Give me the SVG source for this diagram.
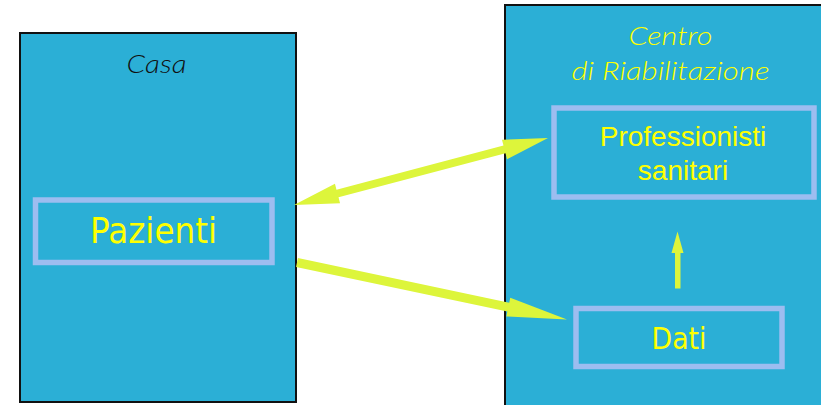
<svg xmlns="http://www.w3.org/2000/svg" width="821" height="405" viewBox="0 0 821 405">
<style>
.zone{fill:#2BAFD6;stroke:#111;stroke-width:2}
.inner{fill:none;stroke:#9DBDF0;stroke-width:5.5}
.title{font-family:Lato,"Open Sans","Liberation Sans",sans-serif;font-style:italic;font-weight:300;font-size:26px;text-anchor:middle}
.lbl{font-family:"DejaVu Sans","Liberation Sans",sans-serif;fill:#FFFF00;text-anchor:middle}
.lbl2{font-family:"Liberation Sans",Arial,sans-serif;fill:#FFFF00;font-size:28px;text-anchor:middle}
.arrow{fill:#DDF53B;stroke:none}
</style>
<rect width="821" height="405" fill="#fff"/>
<g id="casa">
<rect class="zone" x="20" y="33" width="276" height="369"/>
<text class="title" x="156.5" y="73" fill="#111" textLength="60" lengthAdjust="spacingAndGlyphs">Casa</text>
</g>
<g id="centro">
<rect class="zone" x="505" y="5" width="330" height="410"/>
<text class="title" x="670.5" y="45" fill="#FFFF00" textLength="84" lengthAdjust="spacingAndGlyphs">Centro</text>
<text class="title" x="670.5" y="80" fill="#FFFF00" textLength="198" lengthAdjust="spacingAndGlyphs">di Riabilitazione</text>
</g>
<g id="pazienti">
<rect class="inner" x="35.5" y="200" width="236.5" height="62.5"/>
<text class="lbl" x="153.5" y="243.3" font-size="36" textLength="127" lengthAdjust="spacingAndGlyphs">Pazienti</text>
</g>
<g id="professionisti">
<rect class="inner" x="554" y="108" width="260" height="89"/>
<text class="lbl2" x="683" y="146">Professionisti</text>
<text class="lbl2" x="683" y="180">sanitari</text>
</g>
<g id="dati">
<rect class="inner" x="576" y="308.5" width="206" height="58"/>
<text class="lbl" x="679" y="349.3" font-size="30" textLength="55" lengthAdjust="spacingAndGlyphs">Dati</text>
</g>
<g id="connectors">
<polygon class="arrow" points="294,205 340.05,203.17 338.52,197.37 505.52,153.35 507.05,159.15 548,138 501.95,139.81 503.48,145.61 336.48,189.63 334.95,183.83"/>
<polygon class="arrow" points="297.93,258.1 509.23,302.7 510.26,297.81 567,319.5 506.34,316.39 507.37,311.5 296.07,266.9"/>
<polygon class="arrow" points="675,288.5 675,253 671.5,253 677.5,231.5 683.5,253 680.5,253 680.5,288.5"/>
</g>
</svg>
